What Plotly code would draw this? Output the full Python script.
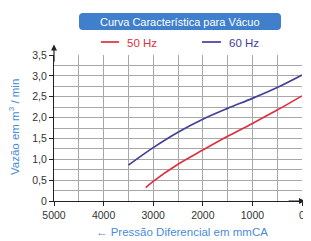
import plotly.graph_objects as go

pressure_60 = [3500, 3000, 2500, 2000, 1500, 1000, 500, 0]
flow_60 = [0.86, 1.28, 1.65, 1.96, 2.22, 2.46, 2.72, 3.02]
pressure_50 = [3150, 3000, 2500, 2000, 1500, 1000, 500, 0]
flow_50 = [0.32, 0.47, 0.88, 1.22, 1.55, 1.86, 2.18, 2.52]

x_ticks = [5000, 4000, 3000, 2000, 1000, 0]
x_tick_labels = ["5000", "4000", "3000", "2000", "1000", "0"]
y_ticks = [0, 0.5, 1.0, 1.5, 2.0, 2.5, 3.0, 3.5]
y_tick_labels = ["0", "0,5", "1,0", "1,5", "2,0", "2,5", "3,0", "3,5"]

RED = "#e0303f"
BLUE = "#42409a"
LABEL = "#4a8cd4"
BOX = "#3f7fcc"
GRID = "#a8a8a8"
FONT = "Liberation Sans, Arial, sans-serif"

OFF = 8
W, H = 311 - OFF, 241 - OFF
L, R, T, B = 54 - OFF, 9, 55 - OFF, 40
pw, ph = W - L - R, H - T - B

def px(x):
    return (x - OFF - L) / pw

def py(y):
    return (H - B - (y - OFF)) / ph

fig = go.Figure()
fig.add_trace(go.Scatter(x=pressure_50, y=flow_50, mode="lines", line=dict(color=RED, width=1.7, shape="spline"),
                         name="50 Hz", showlegend=False, hoverinfo="skip"))
fig.add_trace(go.Scatter(x=pressure_60, y=flow_60, mode="lines", line=dict(color=BLUE, width=1.7, shape="spline"),
                         name="60 Hz", showlegend=False, hoverinfo="skip"))

shapes = []
x0, x1, y0, y1 = px(79), px(281), py(30), py(13)
rx, ry = 4 / pw, 4 / ph
path = (f"M {x0+rx},{y0} L {x1-rx},{y0} Q {x1},{y0} {x1},{y0+ry} L {x1},{y1-ry} Q {x1},{y1} {x1-rx},{y1} "
        f"L {x0+rx},{y1} Q {x0},{y1} {x0},{y1-ry} L {x0},{y0+ry} Q {x0},{y0} {x0+rx},{y0} Z")
shapes.append(dict(type="path", xref="paper", yref="paper", path=path, fillcolor=BOX, line=dict(width=0)))
shapes.append(dict(type="line", xref="paper", yref="paper", x0=px(101), x1=px(119), y0=py(42), y1=py(42), line=dict(color=RED, width=1.7)))
shapes.append(dict(type="line", xref="paper", yref="paper", x0=px(202), x1=px(221), y0=py(42), y1=py(42), line=dict(color=BLUE, width=1.7)))

annotations = [
    dict(text="Curva Característica para Vácuo", xref="paper", yref="paper", x=px(180), y=py(21.5),
         showarrow=False, font=dict(size=11, color="white"), xanchor="center", yanchor="middle"),
    dict(text="50 Hz", xref="paper", yref="paper", x=px(125), y=py(42.5),
         showarrow=False, font=dict(size=11.5, color=RED), xanchor="left", yanchor="middle"),
    dict(text="60 Hz", xref="paper", yref="paper", x=px(227), y=py(42.5),
         showarrow=False, font=dict(size=11.5, color=BLUE), xanchor="left", yanchor="middle"),
    dict(text="Vazão em m<sup>3</sup> / min", xref="paper", yref="paper", x=px(14), y=py(127),
         showarrow=False, textangle=-90, font=dict(size=11.5, color=LABEL), xanchor="center", yanchor="middle"),
    dict(text="\u2190 Pressão Diferencial em mmCA", xref="paper", yref="paper", x=px(182), y=py(232),
         showarrow=False, font=dict(size=11.5, color=LABEL), xanchor="center", yanchor="middle"),
    dict(text="", x=5000, y=3.75, ax=5000, ay=3.3, xref="x", yref="y", axref="x", ayref="y",
         showarrow=True, arrowhead=2, arrowsize=1, arrowwidth=1.2, arrowcolor="#222222"),
    dict(text="", x=-60, y=0, ax=300, ay=0, xref="x", yref="y", axref="x", ayref="y",
         showarrow=True, arrowhead=2, arrowsize=1, arrowwidth=1.2, arrowcolor="#222222"),
]

fig.update_layout(
    width=W, height=H,
    margin=dict(l=L, r=R, t=T, b=B, autoexpand=False),
    paper_bgcolor="white", plot_bgcolor="white",
    font=dict(family=FONT, size=10.5, color="#333333"),
    showlegend=False,
    shapes=shapes,
    annotations=annotations,
)

fig.update_xaxes(range=[5000, 0], tickmode="array", tickvals=x_ticks, ticktext=x_tick_labels,
                 showgrid=True, gridcolor=GRID, gridwidth=1,
                 minor=dict(tickmode="linear", tick0=0, dtick=500, showgrid=True, gridcolor=GRID, gridwidth=1, ticks=""),
                 showline=True, linecolor="#222222", linewidth=1.2,
                 ticks="outside", ticklen=4, tickcolor="#222222", zeroline=False,
                 tickfont=dict(size=10.5, color="#333333"))
fig.update_yaxes(range=[0, 3.5], tickmode="array", tickvals=y_ticks, ticktext=y_tick_labels,
                 showgrid=True, gridcolor=GRID, gridwidth=1,
                 minor=dict(tickmode="linear", tick0=0, dtick=0.25, showgrid=True, gridcolor=GRID, gridwidth=1, ticks=""),
                 showline=True, linecolor="#222222", linewidth=1.2,
                 ticks="outside", ticklen=4, tickcolor="#222222", zeroline=False,
                 tickfont=dict(size=10.5, color="#333333"))

fig.write_html("out.html", config={"displayModeBar": False})
